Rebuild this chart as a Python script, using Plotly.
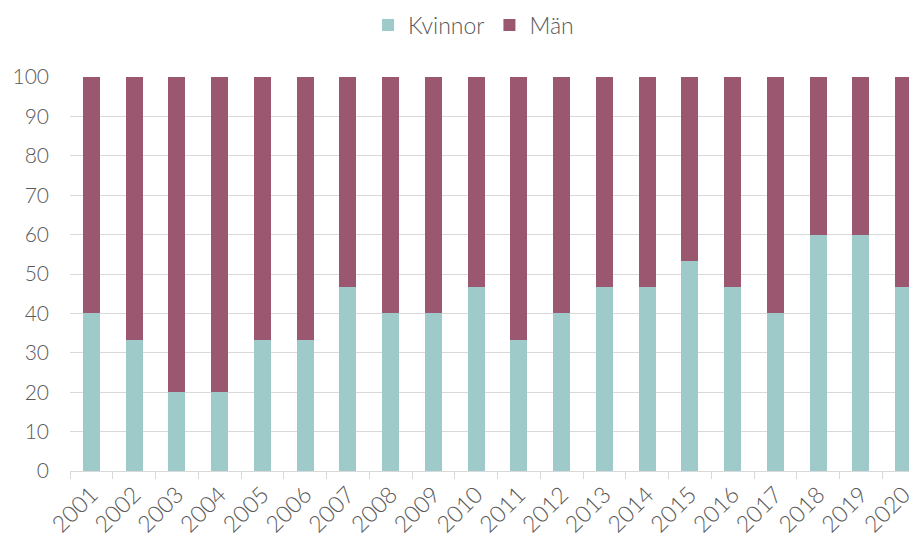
import plotly.graph_objects as go

years = [str(y) for y in range(2001, 2021)]
kvinnor = [40, 33.3, 20, 20, 33.3, 33.3, 46.7, 40, 40, 46.7, 33.3, 40, 46.7, 46.7, 53.3, 46.7, 40, 60, 60, 46.7]
man = [round(100 - v, 1) for v in kvinnor]

fig = go.Figure()
fig.add_trace(go.Bar(x=years, y=kvinnor, name="Kvinnor", marker_color="#9ECAC9", marker_line_width=0))
fig.add_trace(go.Bar(x=years, y=man, name="Män", marker_color="#9B5670", marker_line_width=0))

txt = dict(family="Lato", size=21, color="#595959", weight=300)

fig.update_layout(
    barmode="stack",
    bargap=0.6,
    width=917, height=540,
    margin=dict(l=62, r=0, t=69, b=77, autoexpand=False),
    paper_bgcolor="white", plot_bgcolor="white",
    font=txt,
    legend=dict(orientation="h", x=0.472, xanchor="center", y=1.132, yanchor="middle",
                font=dict(family="Lato", size=23, color="#595959", weight=300),
                traceorder="normal"),
    showlegend=True,
)
fig.update_yaxes(range=[0, 100], dtick=10, showgrid=True, gridcolor="#D9D9D9", gridwidth=1,
                 zeroline=False, showline=False, ticks="", ticklabelstandoff=20,
                 automargin=False, tickfont=txt)
fig.update_xaxes(showline=True, linecolor="#D9D9D9", linewidth=1, ticks="outside",
                 tickson="boundaries", ticklen=7, tickcolor="#D9D9D9", tickangle=-45,
                 automargin=False, tickfont=dict(family="Lato", size=23, color="#595959", weight=300))

fig.write_html("out.html")
